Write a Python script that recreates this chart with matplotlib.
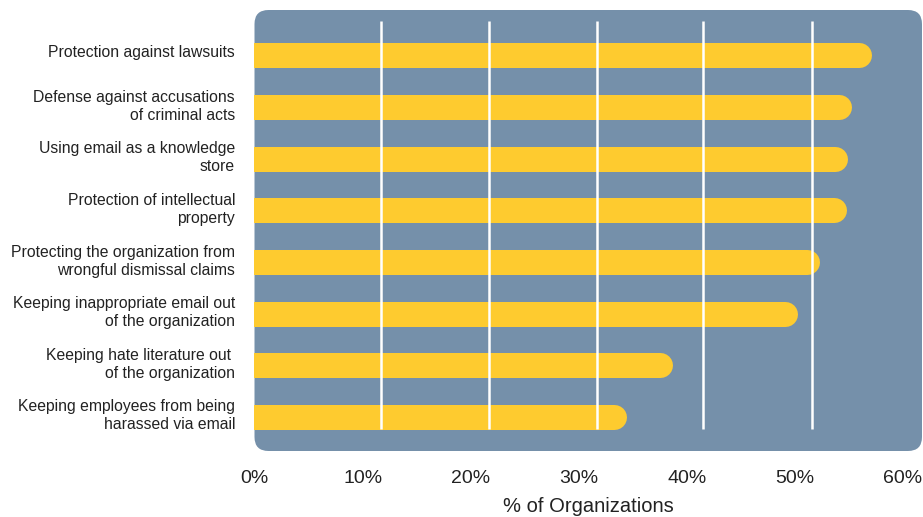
import matplotlib
matplotlib.use('Agg')
import matplotlib.pyplot as plt
from matplotlib.patches import FancyBboxPatch
from matplotlib.transforms import offset_copy

# Data
categories = [
    'Protection against lawsuits',
    'Defense against accusations\nof criminal acts',
    'Using email as a knowledge\nstore',
    'Protection of intellectual\nproperty',
    'Protecting the organization from\nwrongful dismissal claims',
    'Keeping inappropriate email out\nof the organization',
    'Keeping hate literature out \nof the organization',
    'Keeping employees from being\nharassed via email',
]
values = [57.1, 55.2, 54.9, 54.8, 52.3, 50.2, 38.7, 34.4]
x_ticks = [0, 10, 20, 30, 40, 50, 60]
x_tick_labels = ['0%', '10%', '20%', '30%', '40%', '50%', '60%']
grid_lines = [11.7, 21.7, 31.7, 41.5, 51.6]   # the white lines sit a bit right of the ticks

panel_color = '#7590AA'
bar_color = '#FECB2F'
text_color = '#222222'

plt.rcParams['font.family'] = ['Liberation Sans', 'DejaVu Sans']

W, H = 923, 517
fig = plt.figure(figsize=(W / 100, H / 100), dpi=100)
fig.patch.set_facecolor('white')

left, right, top, bottom = 254.5, 922, 10, 451
ax = fig.add_axes([left / W, 1 - bottom / H, (right - left) / W, (bottom - top) / H])
ax.set_xlim(0, 61.76)
ax.set_ylim(len(categories) - 1 + 0.66, -0.88)
ax.patch.set_visible(False)
for s in ax.spines.values():
    s.set_visible(False)

# rounded background panel
aw, ah = right - left, bottom - top
panel = FancyBboxPatch((0, 0), 1, 1, boxstyle='round,pad=0,rounding_size=0.021',
                       mutation_aspect=aw / ah, transform=ax.transAxes,
                       facecolor=panel_color, edgecolor='none', zorder=0, clip_on=False)
ax.add_patch(panel)

ypos = list(range(len(categories)))

# bars as thick lines with a round cap on the right end
bar_lw = 18  # points
cap_px = bar_lw / 72 * fig.dpi / 2
cap_data = cap_px * (61.76 - 0) / aw
bars = ax.hlines(ypos, -5, [v - cap_data for v in values], colors=bar_color,
                 linewidth=bar_lw, zorder=2)
bars.set_capstyle('round')

# gridlines (drawn over the bars)
ax.vlines(grid_lines, -0.66, len(categories) - 1 + 0.23, colors='white', linewidth=1.8, zorder=3)

# axes ticks and labels
ax.set_yticks(ypos)
ax.set_yticklabels(categories, fontsize=11.3, color=text_color, linespacing=1.25,
                   multialignment='right')
ax.set_xticks(x_ticks)
ax.set_xticklabels(x_tick_labels, fontsize=14, color=text_color)
ax.tick_params(axis='y', length=0, pad=14)
ax.tick_params(axis='x', length=0, pad=14)
for lbl in ax.get_yticklabels():
    lbl.set_transform(offset_copy(lbl.get_transform(), fig=fig, x=0, y=4, units='dots'))

ax.set_xlabel('% of Organizations', fontsize=14.5, color=text_color, labelpad=7)

fig.savefig('out.png', dpi=100, facecolor='white')
